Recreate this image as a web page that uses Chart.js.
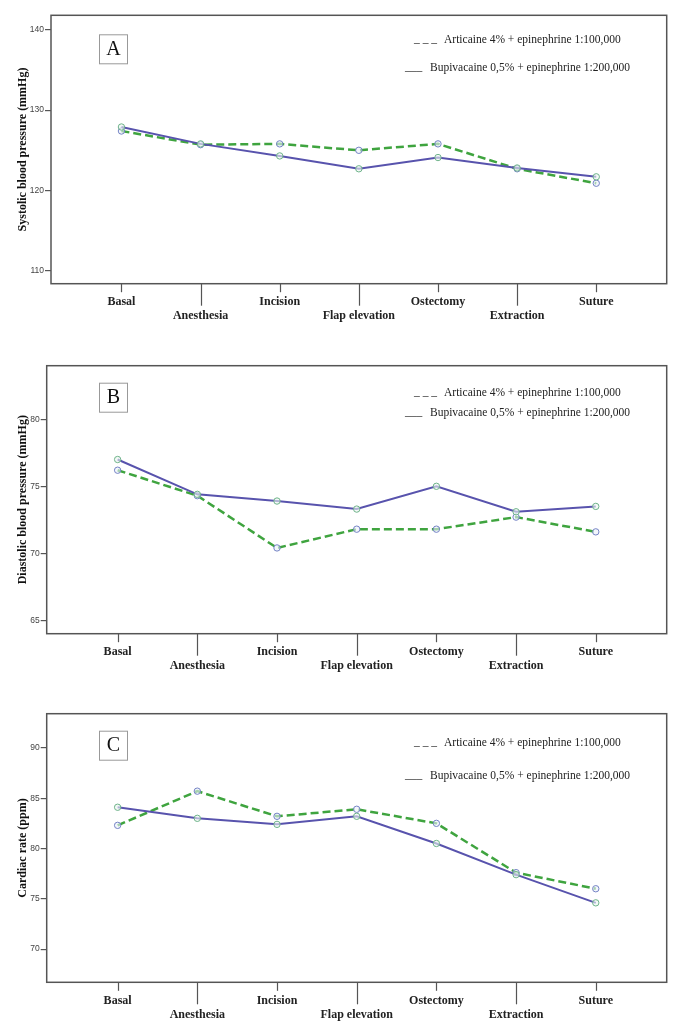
<!DOCTYPE html>
<html><head><meta charset="utf-8">
<script src="https://cdn.jsdelivr.net/npm/chart.js@4.4.1/dist/chart.umd.min.js"></script>
<style>
html,body{margin:0;padding:0;background:#fff;}
#wrap{position:relative;width:681px;height:1033px;overflow:hidden;}
canvas{position:absolute;left:0;}
</style></head><body>
<div id="wrap">
<canvas id="cA" style="top:0;width:681px;height:330px"></canvas>
<canvas id="cB" style="top:330px;width:681px;height:350px"></canvas>
<canvas id="cC" style="top:680px;width:681px;height:353px"></canvas>
</div>
<script>
// ===== 資料 =====
const CATS = ['Basal', 'Anesthesia', 'Incision', 'Flap elevation', 'Ostectomy', 'Extraction', 'Suture'];
const SERIES = ['Articaine 4% + epinephrine 1:100,000', 'Bupivacaine 0,5% + epinephrine 1:200,000'];
const SYS_ART = [127.4, 125.7, 125.8, 125.0, 125.8, 122.7, 120.9];
const SYS_BUP = [127.9, 125.8, 124.3, 122.7, 124.1, 122.8, 121.7];
const DIA_ART = [76.2, 74.3, 70.4, 71.8, 71.8, 72.7, 71.6];
const DIA_BUP = [77.0, 74.4, 73.9, 73.3, 75.0, 73.1, 73.5];
const HR_ART = [82.3, 85.7, 83.2, 83.9, 82.5, 77.6, 76.0];
const HR_BUP = [84.1, 83.0, 82.4, 83.2, 80.5, 77.4, 74.6];
const SYS_TICKS = [110, 120, 130, 140];
const DIA_TICKS = [65, 70, 75, 80];
const HR_TICKS = [70, 75, 80, 85, 90];

// ===== 版面 =====
const PANELS = [
  { id:'cA', h:330, letter:'A', title:'Systolic blood pressure (mmHg)', art:SYS_ART, bup:SYS_BUP, ticks:SYS_TICKS,
    min:108.4, max:141.8, padTop:15.3, yW:51, xH:46.3, boxY:34.3, legY:[40, 68] },
  { id:'cB', h:350, letter:'B', title:'Diastolic blood pressure (mmHg)', art:DIA_ART, bup:DIA_BUP, ticks:DIA_TICKS,
    min:64.0, max:84.0, padTop:35.7, yW:46.7, xH:46.3, boxY:52.7, legY:[63.3, 83.3] },
  { id:'cC', h:353, letter:'C', title:'Cardiac rate (ppm)', art:HR_ART, bup:HR_BUP, ticks:HR_TICKS,
    min:66.7, max:93.4, padTop:33.7, yW:46.7, xH:50.7, boxY:50.7, legY:[63.3, 96] }
];

const SERIF = '"Liberation Serif", "Times New Roman", serif';
const INK = '#555';

const deco = {
  id:'deco',
  afterDraw(c, args, o){
    const {ctx, chartArea:{left,right,top,bottom}} = c;
    const xs = c.scales.x;
    ctx.save();
    // 外框
    ctx.strokeStyle = INK; ctx.lineWidth = 1.5;
    ctx.strokeRect(left, top, right-left, bottom-top);
    // x 刻度 (長短交錯)
    ctx.lineWidth = 1.2;
    CATS.forEach((_, i) => {
      const px = Math.round(xs.getPixelForValue(i)) + 0.5;
      ctx.beginPath(); ctx.moveTo(px, bottom); ctx.lineTo(px, bottom + (i % 2 ? 22 : 8.5)); ctx.stroke();
    });
    // 字母框
    ctx.strokeStyle = '#999'; ctx.lineWidth = 1;
    ctx.strokeRect(99.5, o.boxY + 0.5, 28, 29);
    ctx.fillStyle = '#111'; ctx.font = '20px ' + SERIF; ctx.textAlign = 'center'; ctx.textBaseline = 'middle';
    ctx.fillText(o.letter, 113.5, o.boxY + 15.5);
    // 圖例 (文字)
    ctx.font = '11.5px ' + SERIF; ctx.textAlign = 'left'; ctx.fillStyle = '#222';
    ctx.fillText('_ _ _', 414, o.legY[0] - 1);
    ctx.fillText(SERIES[0], 444, o.legY[0]);
    ctx.fillText('___', 405, o.legY[1] - 1);
    ctx.fillText(SERIES[1], 430, o.legY[1]);
    ctx.restore();
  }
};

function makeChart(p){
  const cvs = document.getElementById(p.id);
  return new Chart(cvs, {
    type:'line',
    data:{ datasets:[
      { label:SERIES[1], data:p.bup.map((v,i)=>({x:i,y:v})), borderColor:'#5853ad', borderWidth:2,
        pointRadius:3.2, pointBorderWidth:1, pointBorderColor:'#6fb38a', pointBackgroundColor:'rgba(235,245,240,0.6)' },
      { label:SERIES[0], data:p.art.map((v,i)=>({x:i,y:v})), borderColor:'#3fa43f', borderWidth:2.5, borderDash:[8,4],
        pointRadius:3.2, pointBorderWidth:1, pointBorderColor:'#7483c4', pointBackgroundColor:'rgba(235,240,250,0.6)' }
    ]},
    options:{
      responsive:false, animation:false,
      layout:{ padding:{ top:p.padTop, right:14.3, left:0, bottom:0 } },
      plugins:{ legend:{display:false}, tooltip:{enabled:false},
        deco:{ letter:p.letter, boxY:p.boxY, legY:p.legY } },
      scales:{
        x:{ type:'linear', min:-0.89, max:6.89,
          afterBuildTicks:s=>{ s.ticks = CATS.map((_,i)=>({value:i})); },
          afterFit:s=>{ s.height = p.xH; },
          grid:{display:false, drawTicks:false}, border:{display:false},
          ticks:{ autoSkip:false, maxRotation:0, minRotation:0, padding:11, color:'#222',
            font:{ family:SERIF, size:12, weight:'bold', lineHeight:1.2 },
            callback:v=> i2lab(v) }
        },
        y:{ min:p.min, max:p.max,
          afterBuildTicks:s=>{ s.ticks = p.ticks.map(v=>({value:v})); },
          afterFit:s=>{ s.width = p.yW; },
          grid:{ drawOnChartArea:false, drawTicks:true, tickLength:6, color:INK, lineWidth:1.2 }, border:{display:false},
          ticks:{ padding:1, color:'#444', font:{ family:'"Liberation Sans", Arial, sans-serif', size:8.5 } },
          title:{ display:true, text:p.title, color:'#111', padding:{top:16, bottom:0},
            font:{ family:SERIF, size:12, weight:'bold', lineHeight:1.2 } }
        }
      }
    },
    plugins:[deco]
  });
}

function i2lab(v){
  const i = Math.round(v);
  if (i < 0 || i >= CATS.length) return '';
  return i % 2 ? ['', CATS[i]] : CATS[i];
}

PANELS.forEach(p => {
  const c = document.getElementById(p.id);
  c.width = 681; c.height = p.h;
  makeChart(p);
});
</script>
</body></html>
